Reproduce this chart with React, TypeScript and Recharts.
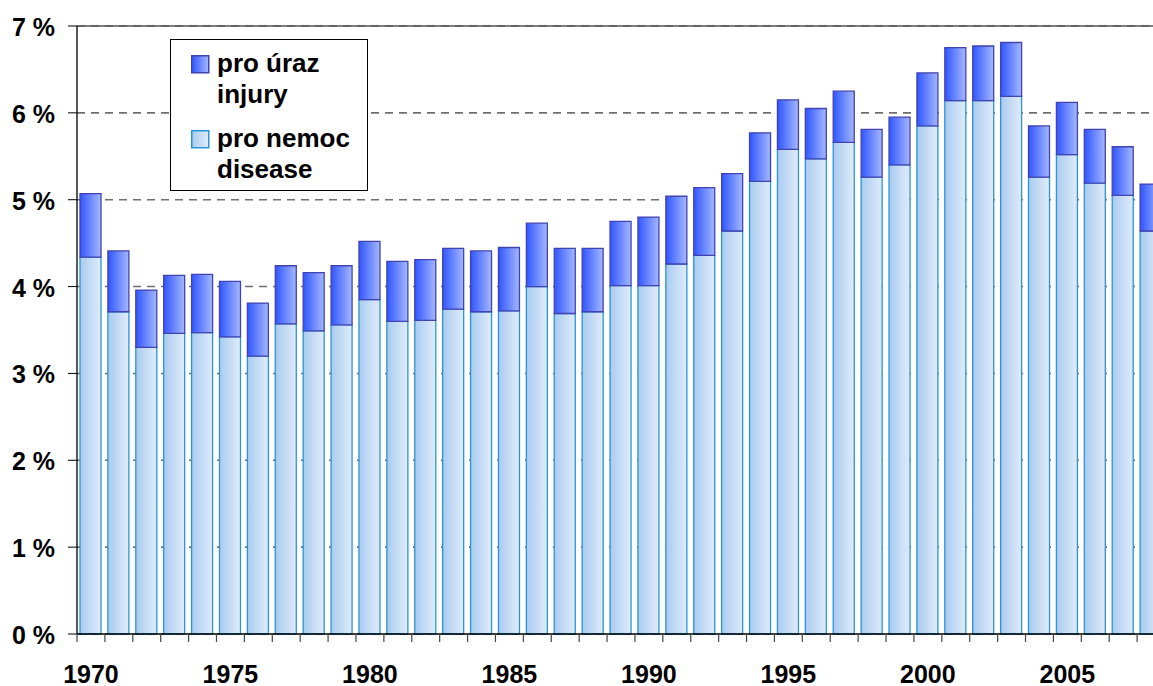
import React from 'react';
import { BarChart, Bar, XAxis, YAxis, CartesianGrid, ReferenceLine, Legend } from 'recharts';

const years = [
  1970, 1971, 1972, 1973, 1974, 1975, 1976, 1977, 1978, 1979,
  1980, 1981, 1982, 1983, 1984, 1985, 1986, 1987, 1988, 1989,
  1990, 1991, 1992, 1993, 1994, 1995, 1996, 1997, 1998, 1999,
  2000, 2001, 2002, 2003, 2004, 2005, 2006, 2007, 2008,
];

const disease = [
  4.34, 3.71, 3.30, 3.46, 3.47, 3.42, 3.20, 3.57, 3.49, 3.56,
  3.85, 3.60, 3.61, 3.74, 3.71, 3.72, 4.00, 3.69, 3.71, 4.01,
  4.01, 4.26, 4.36, 4.64, 5.21, 5.58, 5.47, 5.66, 5.26, 5.40,
  5.85, 6.14, 6.14, 6.19, 5.26, 5.52, 5.19, 5.05, 4.64,
];

const injury = [
  0.73, 0.70, 0.66, 0.67, 0.67, 0.64, 0.61, 0.67, 0.67, 0.68,
  0.67, 0.69, 0.70, 0.70, 0.70, 0.73, 0.73, 0.75, 0.73, 0.74,
  0.79, 0.78, 0.78, 0.66, 0.56, 0.57, 0.58, 0.59, 0.55, 0.55,
  0.61, 0.61, 0.63, 0.62, 0.59, 0.60, 0.62, 0.56, 0.54,
];

const yTicks = [0, 1, 2, 3, 4, 5, 6, 7];
const labelEvery = 5;

const legendItems = [
  { key: 'injury', lines: ['pro úraz', 'injury'], stroke: '#4242b0', from: '#3056ff', to: '#a4b8ff' },
  { key: 'disease', lines: ['pro nemoc', 'disease'], stroke: '#2a95d6', from: '#a9cbf0', to: '#e0ecfa' },
];

const data = years.map((y, i) => ({ year: String(y), disease: disease[i], injury: injury[i] }));

const FONT = 'Arial, "Liberation Sans", Helvetica, sans-serif';
const X_TICK_SIZE = 8;
const X_TICK_MARGIN = 23;

const LegendBox = () => (
  <div
    style={{
      position: 'relative',
      width: 198,
      height: 152,
      border: '1.5px solid #000',
      background: '#fff',
      boxSizing: 'border-box',
      fontFamily: FONT,
      fontWeight: 'bold',
      fontSize: 26,
      color: '#000',
    }}
  >
    {legendItems.map((it, idx) => (
      <div key={it.key} style={{ position: 'absolute', left: 20, top: idx === 0 ? 15 : 90 }}>
        <svg width={19} height={19} style={{ position: 'absolute', left: 0, top: 0 }}>
          <defs>
            <linearGradient id={`lg${idx}`} x1="0" y1="0" x2="1" y2="0">
              <stop offset="0%" stopColor={it.from} />
              <stop offset="100%" stopColor={it.to} />
            </linearGradient>
          </defs>
          <rect x={0.75} y={0.75} width={17} height={17} fill={`url(#lg${idx})`} stroke={it.stroke} strokeWidth={1.5} />
        </svg>
        <div style={{ position: 'absolute', left: 26, top: -7, lineHeight: '31px', whiteSpace: 'nowrap' }}>
          {it.lines.map((l) => (
            <div key={l}>{l}</div>
          ))}
        </div>
      </div>
    ))}
  </div>
);

const YTick = (props: any) => {
  const { x, y, payload } = props;
  return (
    <text x={x} y={y + 10} textAnchor="end" fontFamily={FONT} fontWeight="bold" fontSize={25} fill="#000">
      {`${payload.value} %`}
    </text>
  );
};

const XTick = (props: any) => {
  const { x, y, payload, index } = props;
  const half = payload && typeof payload.offset === 'number' ? payload.offset : 0;
  const axisY = y - X_TICK_MARGIN - X_TICK_SIZE;
  const i = typeof index === 'number' ? index : years.indexOf(Number(payload.value));
  const isLast = i === years.length - 1;
  return (
    <g>
      <line x1={x - half} x2={x - half} y1={axisY} y2={axisY + X_TICK_SIZE} stroke="#444" strokeWidth={1.2} />
      {isLast && (
        <line x1={x + half} x2={x + half} y1={axisY} y2={axisY + X_TICK_SIZE} stroke="#444" strokeWidth={1.2} />
      )}
      {i % labelEvery === 0 && (
        <text x={x} y={axisY + 49} textAnchor="middle" fontFamily={FONT} fontWeight="bold" fontSize={25} fill="#000">
          {payload.value}
        </text>
      )}
    </g>
  );
};

export default function App() {
  return (
    <div style={{ position: 'absolute', left: 0, top: 0, width: 1153, height: 686, overflow: 'hidden', background: '#fff' }}>
      <BarChart
        width={1170}
        height={686}
        data={data}
        margin={{ top: 26, right: 5, bottom: 0, left: 0 }}
        barCategoryGap={0}
        barSize={21}
      >
        <defs>
          <linearGradient id="gInjury" x1="0" y1="0" x2="1" y2="0">
            <stop offset="0%" stopColor="#3056ff" />
            <stop offset="100%" stopColor="#a4b8ff" />
          </linearGradient>
          <linearGradient id="gDisease" x1="0" y1="0" x2="1" y2="0">
            <stop offset="0%" stopColor="#a9cbf0" />
            <stop offset="100%" stopColor="#e0ecfa" />
          </linearGradient>
        </defs>
        <CartesianGrid vertical={false} stroke="#6f6f6f" strokeWidth={1.6} strokeDasharray="8 6" />
        <ReferenceLine y={7} stroke="#555" strokeWidth={1.3} />
        <XAxis
          dataKey="year"
          interval={0}
          height={52}
          tickSize={X_TICK_SIZE}
          tickMargin={X_TICK_MARGIN}
          tickLine={false}
          axisLine={{ stroke: '#000', strokeWidth: 1.3 }}
          tick={<XTick />}
        />
        <YAxis
          width={77}
          domain={[0, 7]}
          ticks={yTicks}
          interval={0}
          tickSize={9}
          tickMargin={13}
          axisLine={{ stroke: '#000', strokeWidth: 1.3 }}
          tickLine={{ stroke: '#000', strokeWidth: 1 }}
          tick={<YTick />}
        />
        <Legend
          layout="vertical"
          align="center"
          verticalAlign="middle"
          wrapperStyle={{ left: 170, top: 39, width: 198, height: 152, position: 'absolute' }}
          content={() => <LegendBox />}
        />
        <Bar dataKey="disease" stackId="a" fill="url(#gDisease)" stroke="#2a95d6" strokeWidth={1.3} isAnimationActive={false} />
        <Bar dataKey="injury" stackId="a" fill="url(#gInjury)" stroke="#4242b0" strokeWidth={1.3} isAnimationActive={false} />
      </BarChart>
    </div>
  );
}
